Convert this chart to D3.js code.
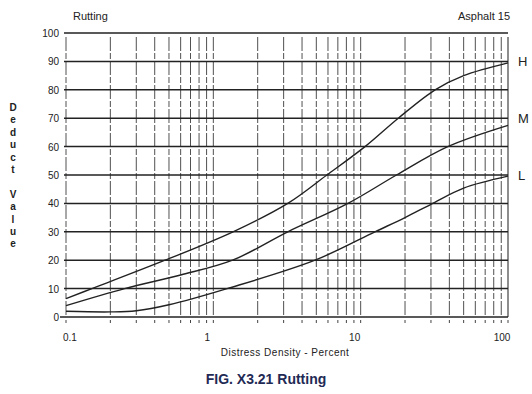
<!DOCTYPE html>
<html>
<head>
<meta charset="utf-8">
<script src="https://cdn.jsdelivr.net/npm/d3@7"></script>
<style>
  body { margin: 0; background: #fff; }
  text { font-family: "Liberation Sans", Arial, sans-serif; fill: #222; }
</style>
</head>
<body>
<svg width="532" height="394"></svg>
<script>
const svg = d3.select("svg"),
	width = +svg.attr("width"),
	height = +svg.attr("height");

// curves (density %, deduct value)
const highX = [0.1, 0.15, 0.47, 1.36, 3.2, 5.9, 10.7, 18, 32, 50, 100];
const highY = [6.5, 10, 20, 30, 40, 50, 60, 70, 80, 85, 89.5];
const medX = [0.1, 0.25, 0.6, 1.35, 3.2, 8.2, 17.5, 39, 100];
const medY = [4, 10, 14.8, 20, 30, 40, 50, 60, 67.5];
const lowX = [0.1, 0.2, 0.3, 0.5, 1.24, 4.9, 12.5, 20, 30, 50, 100];
const lowY = [2, 1.8, 2.2, 4.3, 10, 20, 30, 35, 39.7, 45.4, 49.6];
const curveNames = ["H", "M", "L"];

const yTicks = [0, 10, 20, 30, 40, 50, 60, 70, 80, 90, 100];
const xLabels = [0.1, 1, 10, 100];

const x = d3.scaleLog().domain([0.1, 100]).range([66, 508]);
const y = d3.scaleLinear().domain([0, 100]).range([317, 33]);

// every minor/major decade line
const xGrid = [];
[0.1, 1, 10].forEach(function(dec) {
	for (let k = 1; k < 10; k++) xGrid.push(+(dec * k).toPrecision(3));
});
xGrid.push(100);

const grid = svg.append("g");

grid.selectAll("line.v")
	.data(xGrid)
	.enter().append("line")
	.attr("class", "v")
	.attr("x1", d => x(d)).attr("x2", d => x(d))
	.attr("y1", y(100) + 4).attr("y2", y(0))
	.style("stroke", "#333")
	.style("stroke-width", d => (d === 100 ? 1.3 : 1))
	.style("stroke-dasharray", d => (d === 100 ? null : "14,2,6,2"))
	.style("opacity", 0.85);

// little ticks under the zero line
grid.selectAll("line.t")
	.data(xGrid)
	.enter().append("line")
	.attr("class", "t")
	.attr("x1", d => x(d)).attr("x2", d => x(d))
	.attr("y1", y(0) + 3).attr("y2", y(0) + 6)
	.style("stroke", "#444")
	.style("stroke-width", 1);

grid.selectAll("line.h")
	.data(yTicks)
	.enter().append("line")
	.attr("class", "h")
	.attr("x1", d => (d === 0 ? 60 : 64)).attr("x2", x(100))
	.attr("y1", d => y(d)).attr("y2", d => y(d))
	.style("stroke", "#222")
	.style("stroke-width", 1.5);

// y tick labels
svg.append("g").selectAll("text")
	.data(yTicks)
	.enter().append("text")
	.attr("x", 59)
	.attr("y", d => y(d) + 4)
	.attr("text-anchor", "end")
	.style("font-size", "10px")
	.text(d => d);

// x tick labels
svg.append("g").selectAll("text")
	.data(xLabels)
	.enter().append("text")
	.attr("x", d => x(d) - (d === 0.1 ? 3 : 6))
	.attr("y", 341)
	.attr("text-anchor", d => (d === 0.1 ? "start" : "middle"))
	.style("font-size", "10px")
	.text(d => d);

// the three curves
const line = d3.line()
	.x(d => x(d[0]))
	.y(d => y(d[1]))
	.curve(d3.curveCatmullRom.alpha(0.5));

const series = [d3.zip(highX, highY), d3.zip(medX, medY), d3.zip(lowX, lowY)];

svg.append("g").selectAll("path")
	.data(series)
	.enter().append("path")
	.attr("d", line)
	.style("fill", "none")
	.style("stroke", "#222")
	.style("stroke-width", 1.4);

svg.append("g").selectAll("text")
	.data(series)
	.enter().append("text")
	.attr("x", 518)
	.attr("y", (d, i) => y([90, 70, 50][i]) + 5)
	.style("font-size", "13px")
	.text((d, i) => curveNames[i]);

// headers
svg.append("text").attr("x", 73).attr("y", 20)
	.style("font-size", "11px").text("Rutting");
svg.append("text").attr("x", 510).attr("y", 20).attr("text-anchor", "end")
	.style("font-size", "11px").text("Asphalt 15");

// stacked y-axis title
const yTitle = "Deduct Value".split("");
svg.append("g").selectAll("text")
	.data(yTitle)
	.enter().append("text")
	.attr("x", 13)
	.attr("y", (d, i) => 111 + i * 12.4)
	.attr("text-anchor", "middle")
	.style("font-size", "10px")
	.style("font-weight", "bold")
	.text(d => d);

svg.append("text").attr("x", 285).attr("y", 356).attr("text-anchor", "middle")
	.style("font-size", "10px").style("letter-spacing", "0.5px")
	.text("Distress Density - Percent");

svg.append("text").attr("x", 266).attr("y", 384).attr("text-anchor", "middle")
	.style("font-size", "14px").style("font-weight", "bold")
	.style("fill", "#1f2a55")
	.text("FIG. X3.21 Rutting");
</script>
</body>
</html>
